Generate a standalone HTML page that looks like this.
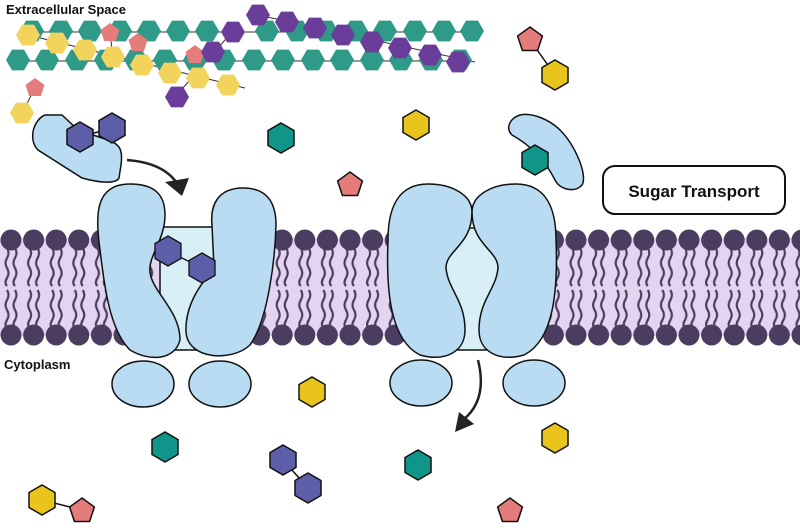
<!DOCTYPE html>
<html><head><meta charset="utf-8"><style>
html,body{margin:0;padding:0;background:#fff;}
svg{display:block;}
text{font-family:"Liberation Sans",sans-serif;font-weight:bold;}
</style></head><body>
<svg width="800" height="531" viewBox="0 0 800 531" xmlns="http://www.w3.org/2000/svg">
<defs>
<polygon id="hs" points="12,0 6,10.4 -6,10.4 -12,0 -6,-10.4 6,-10.4"/>
<polygon id="hb" points="0,-15 13,-7.5 13,7.5 0,15 -13,7.5 -13,-7.5"/>
<polygon id="pb" points="0,-13 12.4,-4 7.6,10.5 -7.6,10.5 -12.4,-4"/>
<polygon id="ps" points="0,-10 9.5,-3 5.9,8 -5.9,8 -9.5,-3"/>
<pattern id="tails" x="0" y="238" width="22.6" height="100" patternUnits="userSpaceOnUse">
<path d="M7,10 q3,5 0,10 t0,10 t0,10 t0,8 M15,10 q3,5 0,10 t0,10 t0,10 t0,8 M7,52 q3,5 0,10 t0,10 t0,10 t0,8 M15,52 q3,5 0,10 t0,10 t0,10 t0,8" fill="none" stroke="#4b3d5f" stroke-width="2.2"/>
</pattern>
</defs>

<!-- membrane -->
<rect x="0" y="238" width="800" height="98" fill="#e3d5f0"/>
<rect x="0" y="238" width="800" height="98" fill="url(#tails)"/>
<g fill="#4b3d5f" id="heads">
<circle cx="11" cy="240" r="10.5"/><circle cx="33.6" cy="240" r="10.5"/><circle cx="56.2" cy="240" r="10.5"/><circle cx="78.8" cy="240" r="10.5"/><circle cx="101.4" cy="240" r="10.5"/><circle cx="124" cy="240" r="10.5"/><circle cx="146.6" cy="240" r="10.5"/><circle cx="169.2" cy="240" r="10.5"/><circle cx="191.8" cy="240" r="10.5"/><circle cx="214.4" cy="240" r="10.5"/><circle cx="237" cy="240" r="10.5"/><circle cx="259.6" cy="240" r="10.5"/><circle cx="282.2" cy="240" r="10.5"/><circle cx="304.8" cy="240" r="10.5"/><circle cx="327.4" cy="240" r="10.5"/><circle cx="350" cy="240" r="10.5"/><circle cx="372.6" cy="240" r="10.5"/><circle cx="395.2" cy="240" r="10.5"/><circle cx="417.8" cy="240" r="10.5"/><circle cx="440.4" cy="240" r="10.5"/><circle cx="463" cy="240" r="10.5"/><circle cx="485.6" cy="240" r="10.5"/><circle cx="508.2" cy="240" r="10.5"/><circle cx="530.8" cy="240" r="10.5"/><circle cx="553.4" cy="240" r="10.5"/><circle cx="576" cy="240" r="10.5"/><circle cx="598.6" cy="240" r="10.5"/><circle cx="621.2" cy="240" r="10.5"/><circle cx="643.8" cy="240" r="10.5"/><circle cx="666.4" cy="240" r="10.5"/><circle cx="689" cy="240" r="10.5"/><circle cx="711.6" cy="240" r="10.5"/><circle cx="734.2" cy="240" r="10.5"/><circle cx="756.8" cy="240" r="10.5"/><circle cx="779.4" cy="240" r="10.5"/><circle cx="802" cy="240" r="10.5"/>
</g>
<use href="#heads" y="95"/>

<!-- left transporter -->
<g stroke="#111" stroke-width="1.5" fill="#b9dcf2">
<rect x="160" y="227" width="60" height="123" fill="#d8eff5"/>
<path d="M130,184 C95,184 95,215 100,250 C105,290 110,330 130,350 C150,362 175,360 180,340 C180,310 152,292 150,272 C148,256 165,240 165,215 C165,195 155,184 130,184 Z"/>
<path d="M243,188 C218,188 210,205 212,225 L214,268 C200,285 185,305 186,332 C188,360 232,362 250,345 C268,320 275,260 276,225 C276,200 265,188 243,188 Z"/>
<ellipse cx="143" cy="384" rx="31" ry="23"/>
<ellipse cx="220" cy="384" rx="31" ry="23"/>
</g>
<line x1="168" y1="251" x2="198" y2="266" stroke="#111" stroke-width="1.3"/>
<use href="#hb" x="168" y="251" fill="#5d5ea8" stroke="#111" stroke-width="1.3"/>
<use href="#hb" x="202" y="268" fill="#5d5ea8" stroke="#111" stroke-width="1.3"/>

<!-- right transporter -->
<g stroke="#111" stroke-width="1.5" fill="#b9dcf2">
<rect x="440" y="228" width="65" height="122" fill="#d8eff5"/>
<path d="M428,184 C400,184 388,205 388,240 C386,290 390,340 420,355 C445,362 465,352 465,330 C465,300 448,290 446,268 C446,250 472,245 472,212 C472,195 452,184 428,184 Z"/>
<path d="M516,184 C544,184 556,205 556,240 C558,290 554,340 524,355 C499,362 479,352 479,330 C479,300 496,290 498,268 C498,250 472,245 472,212 C472,195 492,184 516,184 Z"/>
<ellipse cx="421" cy="383" rx="31" ry="23"/>
<ellipse cx="534" cy="383" rx="31" ry="23"/>
</g>

<!-- labels -->
<text x="6" y="14" font-size="13" fill="#111">Extracellular Space</text>
<text x="4" y="369" font-size="13" fill="#111">Cytoplasm</text>
<rect x="603" y="166" width="182" height="48" rx="12" fill="#fff" stroke="#111" stroke-width="2"/>
<text x="694" y="197" font-size="17" text-anchor="middle" fill="#111">Sugar Transport</text>

<!-- polysaccharide chains -->
<g fill="none" stroke="#333" stroke-width="1">
<path d="M20,32 L470,32"/><path d="M8,61 L470,61"/>
<path d="M28,35 L245,88"/><path d="M258,15 L475,62"/><path d="M232,32 L175,97"/>
<path d="M110,33 L113,57 M35,88 L22,113"/>
</g>
<g fill="#2e9a87">
<use href="#hs" x="32" y="31"/><use href="#hs" x="61" y="31"/><use href="#hs" x="90" y="31"/><use href="#hs" x="120" y="31"/><use href="#hs" x="149" y="31"/><use href="#hs" x="178" y="31"/><use href="#hs" x="207" y="31"/><use href="#hs" x="267" y="31"/><use href="#hs" x="297" y="31"/><use href="#hs" x="326" y="31"/><use href="#hs" x="356" y="31"/><use href="#hs" x="385" y="31"/><use href="#hs" x="415" y="31"/><use href="#hs" x="444" y="31"/><use href="#hs" x="472" y="31"/>
<use href="#hs" x="18" y="60"/><use href="#hs" x="47" y="60"/><use href="#hs" x="77" y="60"/><use href="#hs" x="106" y="60"/><use href="#hs" x="136" y="60"/><use href="#hs" x="165" y="60"/><use href="#hs" x="195" y="60"/><use href="#hs" x="224" y="60"/><use href="#hs" x="254" y="60"/><use href="#hs" x="283" y="60"/><use href="#hs" x="313" y="60"/><use href="#hs" x="342" y="60"/><use href="#hs" x="372" y="60"/><use href="#hs" x="401" y="60"/><use href="#hs" x="431" y="60"/><use href="#hs" x="460" y="60"/>
</g>
<g fill="#f2d35c">
<use href="#hs" x="28" y="35"/><use href="#hs" x="57" y="43"/><use href="#hs" x="85" y="50"/><use href="#hs" x="113" y="57"/><use href="#hs" x="142" y="65"/><use href="#hs" x="170" y="73"/><use href="#hs" x="198" y="78"/><use href="#hs" x="228" y="85"/><use href="#hs" x="22" y="113"/>
</g>
<g fill="#e57c7c">
<use href="#ps" x="110" y="33"/><use href="#ps" x="138" y="43"/><use href="#ps" x="195" y="55"/><use href="#ps" x="35" y="88"/>
</g>
<g fill="#6a3d9a">
<use href="#hs" x="258" y="15"/><use href="#hs" x="287" y="22"/><use href="#hs" x="315" y="28"/><use href="#hs" x="343" y="35"/><use href="#hs" x="372" y="42"/><use href="#hs" x="400" y="48"/><use href="#hs" x="430" y="55"/><use href="#hs" x="458" y="62"/>
<use href="#hs" x="233" y="32"/><use href="#hs" x="213" y="52"/><use href="#hs" x="177" y="97"/>
</g>

<!-- free sugars & blobs -->
<g stroke="#111" stroke-width="1.5">
<path d="M45,115 L62,115 L78,130 L108,140 C120,144 123,150 121,165 L119,178 C116,184 100,183 82,178 L38,150 C28,140 33,120 45,115 Z" fill="#b9dcf2"/>
<line x1="80" y1="137" x2="112" y2="128"/>
<use href="#hb" x="80" y="137" fill="#5d5ea8"/>
<use href="#hb" x="112" y="128" fill="#5d5ea8"/>
<path d="M520,115 C510,118 505,128 512,135 C530,145 545,160 555,180 C560,190 575,193 582,185 C588,175 575,145 560,130 C550,120 532,112 520,115 Z" fill="#b9dcf2"/>
<use href="#hb" x="535" y="160" fill="#0f9688"/>
<use href="#hb" x="281" y="138" fill="#0f9688"/>
<use href="#hb" x="416" y="125" fill="#e9c41c"/>
<use href="#pb" x="350" y="185" fill="#e57c7c"/>
<line x1="530" y1="40" x2="555" y2="75"/>
<use href="#pb" x="530" y="40" fill="#e57c7c"/>
<use href="#hb" x="555" y="75" fill="#e9c41c"/>
<use href="#hb" x="312" y="392" fill="#e9c41c"/>
<use href="#hb" x="165" y="447" fill="#0f9688"/>
<line x1="283" y1="460" x2="308" y2="488"/>
<use href="#hb" x="283" y="460" fill="#5d5ea8"/>
<use href="#hb" x="308" y="488" fill="#5d5ea8"/>
<use href="#hb" x="418" y="465" fill="#0f9688"/>
<use href="#hb" x="555" y="438" fill="#e9c41c"/>
<use href="#pb" x="510" y="511" fill="#e57c7c"/>
<line x1="42" y1="500" x2="82" y2="510"/>
<use href="#hb" x="42" y="500" fill="#e9c41c"/>
<use href="#pb" x="82" y="511" fill="#e57c7c"/>
</g>

<!-- arrows -->
<path d="M127,160 Q165,163 178,185" fill="none" stroke="#222" stroke-width="2.5"/>
<polygon points="165,182 189,178 182,196" fill="#222"/>
<path d="M478,360 Q488,400 463,420" fill="none" stroke="#222" stroke-width="2.5"/>
<polygon points="455,432 459,412 474,424" fill="#222"/>
</svg>
</body></html>
